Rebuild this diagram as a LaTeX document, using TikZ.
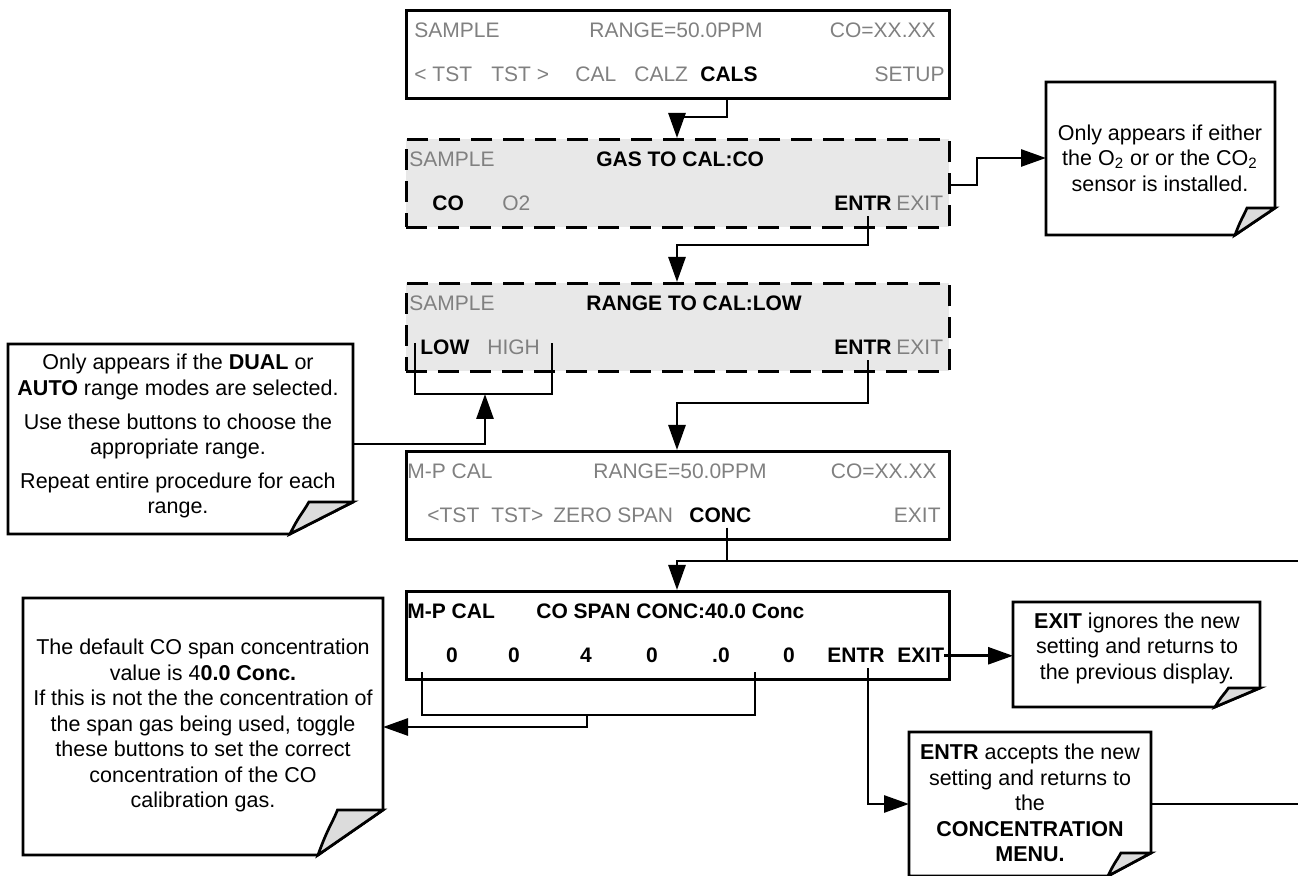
\documentclass[tikz,border=0pt]{standalone}
\usepackage{fontspec}
\setmainfont{Liberation Sans}
\usetikzlibrary{arrows.meta,calc}
\definecolor{gtext}{HTML}{808080}
\definecolor{lcdfill}{HTML}{E8E8E8}
\definecolor{curlfill}{HTML}{DCDCDC}
\newcommand\bfontx{\fontsize{10.5pt}{12pt}\selectfont}
\newcommand\nfontx{\fontsize{10.75pt}{12.75pt}\selectfont}
\newcommand\foldnote[3]{%
  \draw[nbord] (#1.north west) -- (#1.north east) -- ($(#1.south east)+(0,-#3)$) -- ($(#1.south east)+(-#2,0)$) -- (#1.south west) -- cycle;
  \draw[nbord, fill=curlfill] ($(#1.south east)+(-#2,0)$) .. controls +(0.15*#2,-0.6*#3) and +(-0.1*#2,0.35*#3) .. ($(#1.south east)+(-0.7*#2,-#3)$) -- ($(#1.south east)+(0,-#3)$) -- cycle;
}
\begin{document}
\begin{tikzpicture}[x=0.5pt,y=-0.5pt,
  lcd/.style={draw, line width=1.4pt, anchor=north west, minimum width=271.5pt, minimum height=44pt, inner sep=0pt},
  lcdd/.style={lcd, dash pattern=on 10.5pt off 5.5pt, fill=lcdfill},
  t/.style={inner sep=0pt, anchor=base west, font=\bfontx},
  tg/.style={t, text=gtext},
  tb/.style={t, font=\bfontx\bfseries},
  conn/.style={line width=1.4pt},
  arr/.style={conn, -{Triangle[length=12.5pt,width=8.5pt]}},
  frame/.style={inner sep=0pt, outer sep=0pt},
  nbord/.style={line width=1.35pt},
  ntext/.style={align=center, font=\nfontx, inner sep=0pt}]
\useasboundingbox (0,0) rectangle (1298,876);

% ---- display boxes
\node[lcd]  (b1) at (405,9) {};
\node[lcdd] (b2) at (405,138) {};
\node[lcdd] (b3) at (405,282) {};
\node[lcd]  (b4) at (405,450) {};
\node[lcd]  (b5) at (405,590) {};

% box 1
\node[tg] (s1) at (414,38) {SAMPLE};
\node[tg] (r1) at (589,38) {RANGE=50.0PPM};
\node[tg, anchor=base east] (c1) at (936,38) {CO=XX.XX};
\node[tg] (k1) at (414,82) {< TST};
\node[tg] (k2) at (491,82) {TST >};
\node[tg] (k3) at (575,82) {CAL};
\node[tg] (k4) at (634,82) {CALZ};
\node[tb] (cals) at (700,82) {CALS};
\node[tg, anchor=base east] (k5) at (945,82) {SETUP};

% box 2
\node[tg] (s2) at (409,167) {SAMPLE};
\node[tb] (g2) at (596,167) {GAS TO CAL:CO};
\node[tb] (co2) at (432,211) {CO};
\node[tg] (o2) at (502,211) {O2};
\node[tb] (e2) at (834,211) {ENTR};
\node[tg] (x2) at (896,211) {EXIT};

% box 3
\node[tg] (s3) at (409,311) {SAMPLE};
\node[tb] (g3) at (586,311) {RANGE TO CAL:LOW};
\node[tb] (lo3) at (420,355) {LOW};
\node[tg] (hi3) at (487,355) {HIGH};
\node[tb] (e3) at (834,355) {ENTR};
\node[tg] (x3) at (896,355) {EXIT};

% box 4
\node[tg] (s4) at (407,479) {M-P CAL};
\node[tg] (r4) at (593,479) {RANGE=50.0PPM};
\node[tg, anchor=base east] (c4) at (937,479) {CO=XX.XX};
\node[tg] (k6) at (427,523) {<TST};
\node[tg] (k7) at (491,523) {TST>};
\node[tg] (k8) at (553,523) {ZERO};
\node[tg] (k9) at (617,523) {SPAN};
\node[tb] (conc) at (689,523) {CONC};
\node[tg, anchor=base east] (x4) at (941,523) {EXIT};

% box 5
\node[tb] (s5) at (407,619) {M-P CAL};
\node[tb] (g5) at (536,619) {CO SPAN CONC:40.0 Conc};
\node[tb, anchor=base] (d1) at (452,663) {0};
\node[tb, anchor=base] (d2) at (514,663) {0};
\node[tb, anchor=base] (d3) at (586,663) {4};
\node[tb, anchor=base] (d4) at (652,663) {0};
\node[tb, anchor=base] (d5) at (721,663) {.0};
\node[tb, anchor=base] (d6) at (789,663) {0};
\node[tb] (e5) at (827,663) {ENTR};
\node[tb] (ex5) at (897,663) {EXIT};

% ---- notes (frames)
\node[frame, minimum width=114.5pt, minimum height=76.5pt] (n1) at (1160.5,158.5) {};
\node[frame, minimum width=172.5pt, minimum height=95pt]   (n2) at (180.5,439) {};
\node[frame, minimum width=180pt,   minimum height=128.5pt] (n3) at (203,726.5) {};
\node[frame, minimum width=123.5pt, minimum height=52.5pt] (n4) at (1136.5,654.5) {};
\node[frame, minimum width=121pt,   minimum height=72pt]   (n5) at (1030,804) {};
\foldnote{n1}{40}{27}
\foldnote{n2}{63}{32}
\foldnote{n3}{65}{45}
\foldnote{n4}{45}{19}
\foldnote{n5}{43}{23}

\node[ntext] (t1) at (1160,158) {Only appears if either\\the O\textsubscript{2} or or the CO\textsubscript{2}\\sensor is installed.};
\node[ntext] (t2) at (178,436) {Only appears if the \textbf{DUAL} or\\\textbf{AUTO} range modes are selected.\\[4.25pt]Use these buttons to choose the\\appropriate range.\\[4pt]Repeat entire procedure for each\\range.};
\node[ntext] (t3) at (203,725.5) {The default CO span concentration\\value is 4\textbf{0.0 Conc.}\\If this is not the the concentration of\\the span gas being used, toggle\\these buttons to set the correct\\concentration of the CO\\calibration gas.};
\node[ntext] (t4) at (1137,648) {\textbf{EXIT} ignores the new\\setting and returns to\\the previous display.};
\node[ntext] (t5) at (1030,803) {\textbf{ENTR} accepts the new\\setting and returns to\\the\\\textbf{CONCENTRATION}\\\textbf{MENU.}};

% ---- helper coordinates
\coordinate (x415) at (415,0);
\coordinate (x422) at (422,0);
\coordinate (x485) at (485,0);
\coordinate (x552) at (552,0);
\coordinate (x587) at (587,0);
\coordinate (x677) at (677,0);
\coordinate (x727) at (727,0);
\coordinate (x755) at (755,0);
\coordinate (x868) at (868,0);
\coordinate (x977) at (977,0);
\coordinate (y117) at (0,117);
\coordinate (y158) at (0,158);
\coordinate (y185) at (0,185);
\coordinate (y245) at (0,245);
\coordinate (y343) at (0,343);
\coordinate (y394) at (0,394);
\coordinate (y403) at (0,403);
\coordinate (y444) at (0,444);
\coordinate (y561) at (0,561);
\coordinate (y672) at (0,672);
\coordinate (y715) at (0,715);
\coordinate (y727) at (0,727);
\coordinate (y804) at (0,804);
\coordinate (edgeA) at (1298,561);
\coordinate (edgeB) at (1298,804);

% ---- connectors
\draw[arr] (x727 |- b1.south) -- (x727 |- y117) -| (x677 |- b2.north);
\draw[arr] ($(x868 |- e2.south)+(0,5)$) -- (x868 |- y245) -| (x677 |- b3.north);
\draw[arr] ($(x868 |- e3.south)+(0,5)$) -- (x868 |- y403) -| (x677 |- b4.north);
\draw[conn] ($(x727 |- conc.south)+(0,4)$) -- (x727 |- y561);
\draw[arr] (edgeA) -- (x677 |- y561) -- (x677 |- b5.north);
\draw[arr] (b2.east |- y185) -- (x977 |- y185) |- (n1.west |- y158);
\draw[conn] (x415 |- y343) -- (x415 |- y394) -- (x552 |- y394) -- (x552 |- y343);
\draw[arr] (n2.east |- y444) -| (x485 |- y394);
\draw[conn] (x422 |- y672) -- (x422 |- y715) -- (x755 |- y715) -- (x755 |- y672);
\draw[arr] (x587 |- y715) |- (n3.east |- y727);
\draw[arr] (ex5.east) -- (n4.west |- ex5.east);
\draw[arr] ($(x868 |- e5.south)+(0,5)$) |- (n5.west |- y804);
\draw[conn] (n5.east |- y804) -- (edgeB);
\end{tikzpicture}
\end{document}
